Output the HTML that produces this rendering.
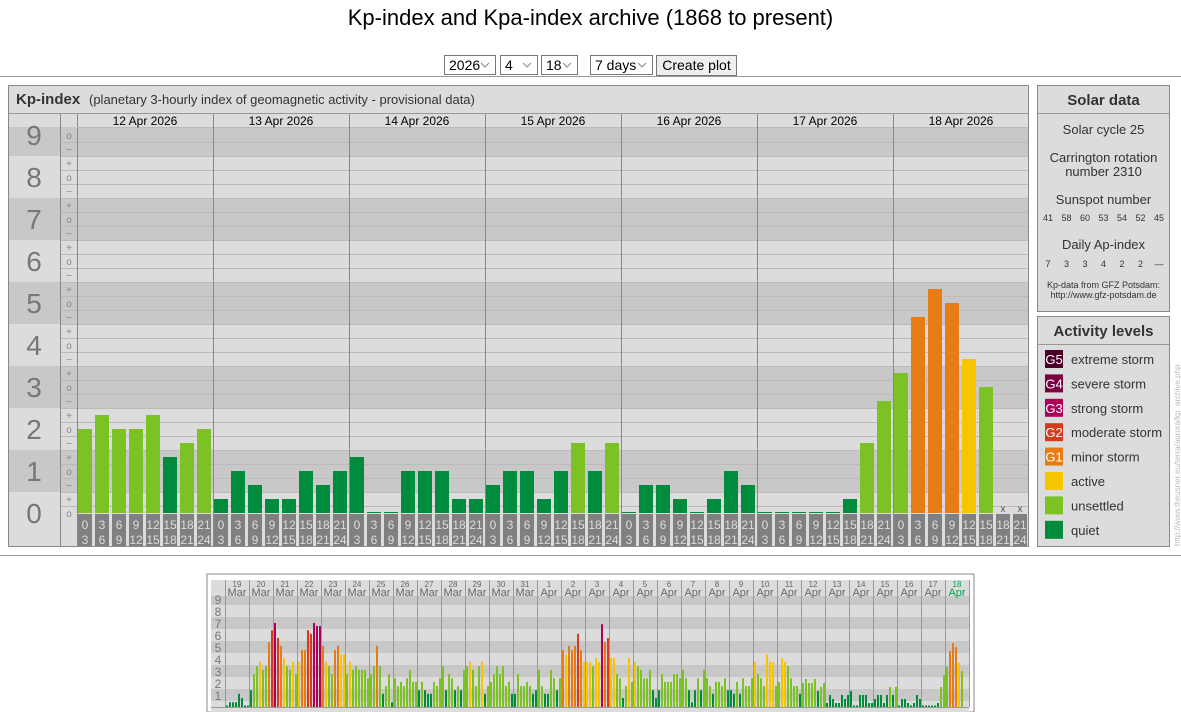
<!DOCTYPE html>
<html><head><meta charset="utf-8">
<style>
html,body{margin:0;padding:0;background:#fff;width:1181px;height:712px;overflow:hidden;font-family:"Liberation Sans",Arial,sans-serif;}
svg{position:absolute;left:0;top:0;}
</style></head>
<body>
<svg id="s" width="1181" height="712" xmlns="http://www.w3.org/2000/svg" font-family="Liberation Sans, Arial, sans-serif"></svg>
<script>
var S=document.getElementById('s');var h='';
function R(x,y,w,ht,f,st){h+='<rect x="'+x+'" y="'+y+'" width="'+w+'" height="'+ht+'" fill="'+f+'"'+(st?' stroke="'+st+'"':'')+'/>';}
function L(x1,y1,x2,y2,c,w){h+='<line x1="'+x1+'" y1="'+y1+'" x2="'+x2+'" y2="'+y2+'" stroke="'+c+'" stroke-width="'+(w||1)+'"/>';}
function T(x,y,t,sz,c,a,ex){h+='<text x="'+x+'" y="'+y+'" font-size="'+sz+'" fill="'+(c||'#000')+'" text-anchor="'+(a||'start')+'" '+(ex||'')+'>'+t+'</text>';}
T(590.5,25,'Kp-index and Kpa-index archive (1868 to present)',22,'#000','middle');
function box(x,w,t){R(x+0.5,55.5,w,19,'#fff','#767676');T(x+5,70,t,14,'#000');h+='<path d="M'+(x+w-14)+' 63 l4 4 l4 -4" fill="none" stroke="#888" stroke-width="1"/>';}
box(444,51,'2026');box(500,37,'4');box(541,36,'18');box(590,62,'7 days');
R(656.5,55.5,80,20,'#efefef','#767676');T(696.5,70,'Create plot',14,'#000','middle');
L(0,76.5,1181,76.5,'#999');L(0,555.5,1181,555.5,'#999');
R(8.5,85.5,1020,461,'#dcdcdc','#888');
L(9,113.5,1028,113.5,'#999');
T(16,104,'Kp-index',15,'#333','start','font-weight="bold"');T(89,104,'(planetary 3-hourly index of geomagnetic activity - provisional data)',13,'#333');
var base=513;
for(var n=9;n>=0;n--){var y1=Math.max(127,base-42*n-21),y2=Math.min(546,base-42*n+21);var c=(n%2)?'#c8c8c8':'#dcdcdc';
 R(9,Math.max(114,y1),51,y2-Math.max(114,y1),c);R(77,y1,952,y2-y1,c);R(61,y1,16,y2-y1,c);}
R(9,534,51,12,'#dcdcdc');
for(var n=9;n>=0;n--)T(34,base-42*n+10,n,28,'#777','middle');
for(var k=0;k<=27;k++){var y=base-14*k;var lab=['o','+','\u2212'][k%3];T(69,y+4,lab,10,'#888','middle');
 if(k<27){L(61,y-6.5,77,y-6.5,'#bbb');L(77,y-6.5,1029,y-6.5,'#bbb');}}
L(60.5,114,60.5,546,'#888');L(77.5,114,77.5,546,'#888');
L(77,127.5,1029,127.5,'#bbb');
var days=['12 Apr 2026','13 Apr 2026','14 Apr 2026','15 Apr 2026','16 Apr 2026','17 Apr 2026','18 Apr 2026'];
var kp=[[6,7,6,6,7,4,5,6],[1,3,2,1,1,3,2,3],[4,0,0,3,3,3,1,1],[2,3,3,1,3,5,3,5],[0,2,2,1,0,1,3,2],[0,0,0,0,0,1,5,8],[10,14,16,15,11,9,-1,-1]];
function col(t){return t<=4?'#008c3c':t<=10?'#7dc225':t<=13?'#f7c500':t<=16?'#e57c16':t<=19?'#d83a1e':t<=22?'#b0005a':t<=26?'#7a0040':'#4a0028';}
var hrs=[['0','3'],['3','6'],['6','9'],['9','12'],['12','15'],['15','18'],['18','21'],['21','24']];
for(var d=0;d<7;d++){var dx=77+136*d;T(dx+68,125,days[d],12,'#000','middle');
 for(var i=0;i<8;i++){var bx=dx+1+17*i;var v=kp[d][i];
  if(v>=0){var ht=Math.max(1,v*14);R(bx,base-ht,14,ht,col(v));}else{T(bx+7,512,'x',10,'#555','middle');}
  R(bx,514,14,32,'#808080');T(bx+7,529,hrs[i][0],12,'#ddd','middle');T(bx+7,544,hrs[i][1],12,'#ddd','middle');}
 if(d>0)L(dx+0.5,114,dx+0.5,546,'#888');}
L(1028.5,114,1028.5,546,'#888');
R(1037.5,85.5,132,226,'#dcdcdc','#888');L(1038,113.5,1169,113.5,'#999');
T(1103.5,105,'Solar data',15,'#333','middle','font-weight="bold"');
T(1103.5,134,'Solar cycle 25',13,'#333','middle');T(1103.5,162,'Carrington rotation',13,'#333','middle');T(1103.5,176,'number 2310',13,'#333','middle');
T(1103.5,204,'Sunspot number',13,'#333','middle');
var ss=['41','58','60','53','54','52','45'];for(var i=0;i<7;i++)T(1048+18.5*i,221,ss[i],9,'#333','middle');
T(1103.5,249,'Daily Ap-index',13,'#333','middle');
var ap=['7','3','3','4','2','2','\u2014'];for(var i=0;i<7;i++)T(1048+18.5*i,267,ap[i],9,'#333','middle');
T(1103.5,288,'Kp-data from GFZ Potsdam:',9,'#333','middle');T(1103.5,298,'http://www.gfz-potsdam.de',9,'#333','middle');
R(1037.5,316.5,132,230,'#dcdcdc','#888');L(1038,344.5,1169,344.5,'#999');
T(1103.5,336,'Activity levels',15,'#333','middle','font-weight="bold"');
var lv=[['#4a0028','G5','extreme storm'],['#7a0040','G4','severe storm'],['#b0005a','G3','strong storm'],['#d83a1e','G2','moderate storm'],['#e57c16','G1','minor storm'],['#f7c500','','active'],['#7dc225','','unsettled'],['#008c3c','','quiet']];
for(var i=0;i<8;i++){var y=350+24.4*i;R(1045,y,18,18,lv[i][0]);if(lv[i][1])T(1054,y+14,lv[i][1],13,'#fff','middle');T(1071,y+14,lv[i][2],13,'#333');}
T(0,0,'http://www.theusner.eu/terra/aurora/kp_archive.php',8,'#bbb','start','transform="translate(1180,546) rotate(-90)"');
R(207,574,767,138,'#fff','#888');
R(211,580,758,132,'#dcdcdc');
var mb=707;
for(var n=0;n<=9;n++){var y1=mb-12*n-6;if(n%2)R(211,y1,758,12,'#c8c8c8');}
R(211,580,758,16,'#dcdcdc');
for(var n=1;n<=9;n++)T(218,mb-12*n+5,n,12,'#777','middle');
var dn=['19','20','21','22','23','24','25','26','27','28','29','30','31','1','2','3','4','5','6','7','8','9','10','11','12','13','14','15','16','17','18'];
var mk=[[0.1,0.4,0.4,0.4,1.1,0.75,0.1,0.1],[1.4,2.75,3.4,3.75,3.1,3.4,5.4,6.4],[7,5.75,5.1,4.1,3.4,3.1,3.75,2.75],[3.75,4.75,4.75,6.4,6.1,7,6.75,6.75],[5.1,3.75,3.4,2.75,4.75,5.1,4.4,4.4],[2.75,3.75,3.1,3.4,3.1,3.1,3.1,2.4],[2.75,3.4,5.1,3.4,1.1,1.75,2.75,0.4],[2.4,1.75,2.1,1.75,2.4,3.1,2.1,2.1],[1.4,2.1,1.4,1.1,1.1,2.1,1.75,2.4],[3.4,1.4,2.75,2.4,1.4,1.75,1.4,3.1],[3.4,3.75,3.1,1.75,3.4,3.75,1.1,1.75],[2.1,2.75,3.4,2.75,3.4,1.75,2.1,1.1],[1.1,2.75,1.75,1.75,2.1,1.75,1.1,1.4],[3.1,1.75,1.1,1.1,3.1,2.4,1.4,2.4],[4.75,4.4,5.1,4.75,5.1,6.1,4.75,3.75],[3.75,3.75,3.4,4.1,3.75,6.9,5.4,5.75],[4.1,4.1,2.75,2.4,0.75,1.75,4.1,2.1],[3.75,3.4,3.1,2.4,2.4,3.1,1.4,0.75],[1.4,2.75,2.1,2.1,2.1,2.75,2.75,2.4],[3.1,2.4,1.4,0.4,1.4,2.4,1.4,3.1],[2.4,1.75,1.1,2.1,2.1,1.75,2.4,1.4],[1.4,1.1,2.1,1.1,2.4,1.75,1.75,2.4],[3.75,2.75,2.4,1.75,4.4,3.75,3.75,1.75],[2.1,4.1,3.75,3.4,2.4,1.75,1.75,1.1]];
for(var d=0;d<6;d++){var a=[];for(var i=0;i<8;i++)a.push(Math.max(0.08,kp[d][i]/3));mk.push(a);}
mk.push([10/3,14/3,16/3,5,11/3,3,-1,-1]);
function mc(v){return v<1.5?'#008c3c':v<3.5?'#7dc225':v<4.5?'#f7c500':v<5.5?'#e57c16':v<6.5?'#d83a1e':v<7.5?'#b0005a':'#7a0040';}
for(var d=0;d<31;d++){var dx=225+24*d;var last=d==30;
 T(dx+12,587,dn[d],8,last?'#00a050':'#666','middle');T(dx+12,596,d<13?'Mar':'Apr',11,last?'#00a050':'#666','middle');
 for(var i=0;i<8;i++){var v=mk[d][i];if(v<0)continue;var ht=Math.max(1.5,v*12);R(dx+1+3*i,mb-ht,2,ht,mc(v));}
 L(dx+0.5,580,dx+0.5,707,'#999');}
L(969.5,580,969.5,707,'#999');L(211,707.5,969,707.5,'#999');
S.innerHTML=h;
</script>
</body></html>
